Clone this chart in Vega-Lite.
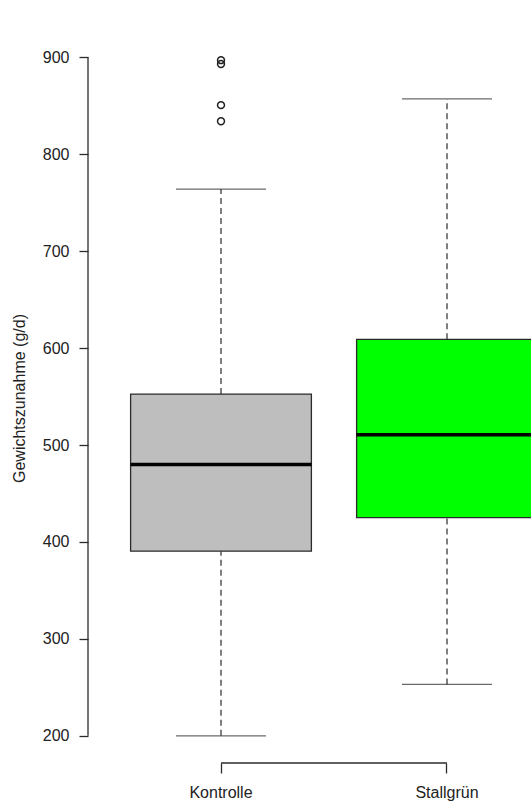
{
  "$schema": "https://vega.github.io/schema/vega-lite/v6.json",
  "width": 443,
  "height": 730,
  "autosize": {"type": "none"},
  "padding": {"left": 88, "top": 33, "right": 0, "bottom": 39},
  "background": "white",
  "config": {
    "view": {"stroke": null},
    "font": "Liberation Sans",
    "axis": {"labelFont": "Liberation Sans", "titleFont": "Liberation Sans", "labelColor": "#222", "titleColor": "#222", "tickColor": "#2b2b2b", "grid": false, "domain": false}
  },
  "datasets": {
    "box": [
      {"Gruppe": "Kontrolle", "min": 200, "q1": 390.5, "median": 480, "q3": 552.6, "max": 764},
      {"Gruppe": "Stallgrün", "min": 253, "q1": 425.2, "median": 510.7, "q3": 609, "max": 857}
    ],
    "out": [
      {"Gruppe": "Kontrolle", "wert": 897},
      {"Gruppe": "Kontrolle", "wert": 893},
      {"Gruppe": "Kontrolle", "wert": 850.6},
      {"Gruppe": "Kontrolle", "wert": 834}
    ]
  },
  "layer": [
    {
      "data": {"name": "box"},
      "mark": {"type": "rule", "strokeDash": [6, 4], "color": "#2b2b2b", "strokeWidth": 1.2},
      "encoding": {
        "x": {
          "field": "Gruppe", "type": "nominal",
          "scale": {"domain": ["Kontrolle", "Stallgrün"], "range": [0, 492], "paddingInner": 0.2, "paddingOuter": 0.1885},
          "axis": {"title": null, "labelAngle": 0, "labelFontSize": 16, "tickSize": 10, "tickWidth": 1.3, "labelPadding": 11}
        },
        "y": {
          "field": "q3", "type": "quantitative",
          "scale": {"domain": [172, 925], "nice": false, "zero": false},
          "axis": {"title": "Gewichtszunahme (g/d)", "values": [200, 300, 400, 500, 600, 700, 800, 900], "labelFontSize": 16, "titleFontSize": 16, "titleFontWeight": "normal", "tickSize": 9, "tickWidth": 1.3, "labelPadding": 10, "titlePadding": 15}
        },
        "y2": {"field": "max"}
      }
    },
    {
      "data": {"name": "box"},
      "mark": {"type": "rule", "strokeDash": [6, 4], "color": "#2b2b2b", "strokeWidth": 1.2},
      "encoding": {
        "x": {"field": "Gruppe", "type": "nominal"},
        "y": {"field": "min", "type": "quantitative"},
        "y2": {"field": "q1"}
      }
    },
    {
      "data": {"name": "box"},
      "mark": {"type": "tick", "size": 90, "thickness": 1.3, "color": "#2b2b2b"},
      "encoding": {
        "x": {"field": "Gruppe", "type": "nominal"},
        "y": {"field": "max", "type": "quantitative"}
      }
    },
    {
      "data": {"name": "box"},
      "mark": {"type": "tick", "size": 90, "thickness": 1.3, "color": "#2b2b2b"},
      "encoding": {
        "x": {"field": "Gruppe", "type": "nominal"},
        "y": {"field": "min", "type": "quantitative"}
      }
    },
    {
      "data": {"name": "box"},
      "mark": {"type": "bar", "clip": true, "stroke": "#2b2b2b", "strokeWidth": 1.3},
      "encoding": {
        "x": {"field": "Gruppe", "type": "nominal"},
        "y": {"field": "q1", "type": "quantitative"},
        "y2": {"field": "q3"},
        "fill": {"field": "Gruppe", "type": "nominal", "scale": {"domain": ["Kontrolle", "Stallgrün"], "range": ["#bebebe", "#00ff00"]}, "legend": null}
      }
    },
    {
      "data": {"name": "box"},
      "mark": {"type": "tick", "clip": true, "size": 181, "thickness": 3.5, "color": "#000", "opacity": 1},
      "encoding": {
        "x": {"field": "Gruppe", "type": "nominal"},
        "y": {"field": "median", "type": "quantitative"}
      }
    },
    {
      "data": {"name": "out"},
      "mark": {"type": "point", "shape": "circle", "filled": false, "size": 48, "strokeWidth": 1.5, "color": "#222", "opacity": 1},
      "encoding": {
        "x": {"field": "Gruppe", "type": "nominal"},
        "y": {"field": "wert", "type": "quantitative"}
      }
    },
    {
      "data": {"values": [{}]},
      "mark": {"type": "rule", "color": "#2b2b2b", "strokeWidth": 1.3},
      "encoding": {
        "x": {"value": 0},
        "y": {"datum": 200},
        "y2": {"datum": 900}
      }
    },
    {
      "data": {"values": [{}]},
      "mark": {"type": "rule", "color": "#2b2b2b", "strokeWidth": 1.3},
      "encoding": {
        "x": {"datum": "Kontrolle"},
        "x2": {"datum": "Stallgrün"},
        "y": {"datum": 172}
      }
    }
  ]
}
